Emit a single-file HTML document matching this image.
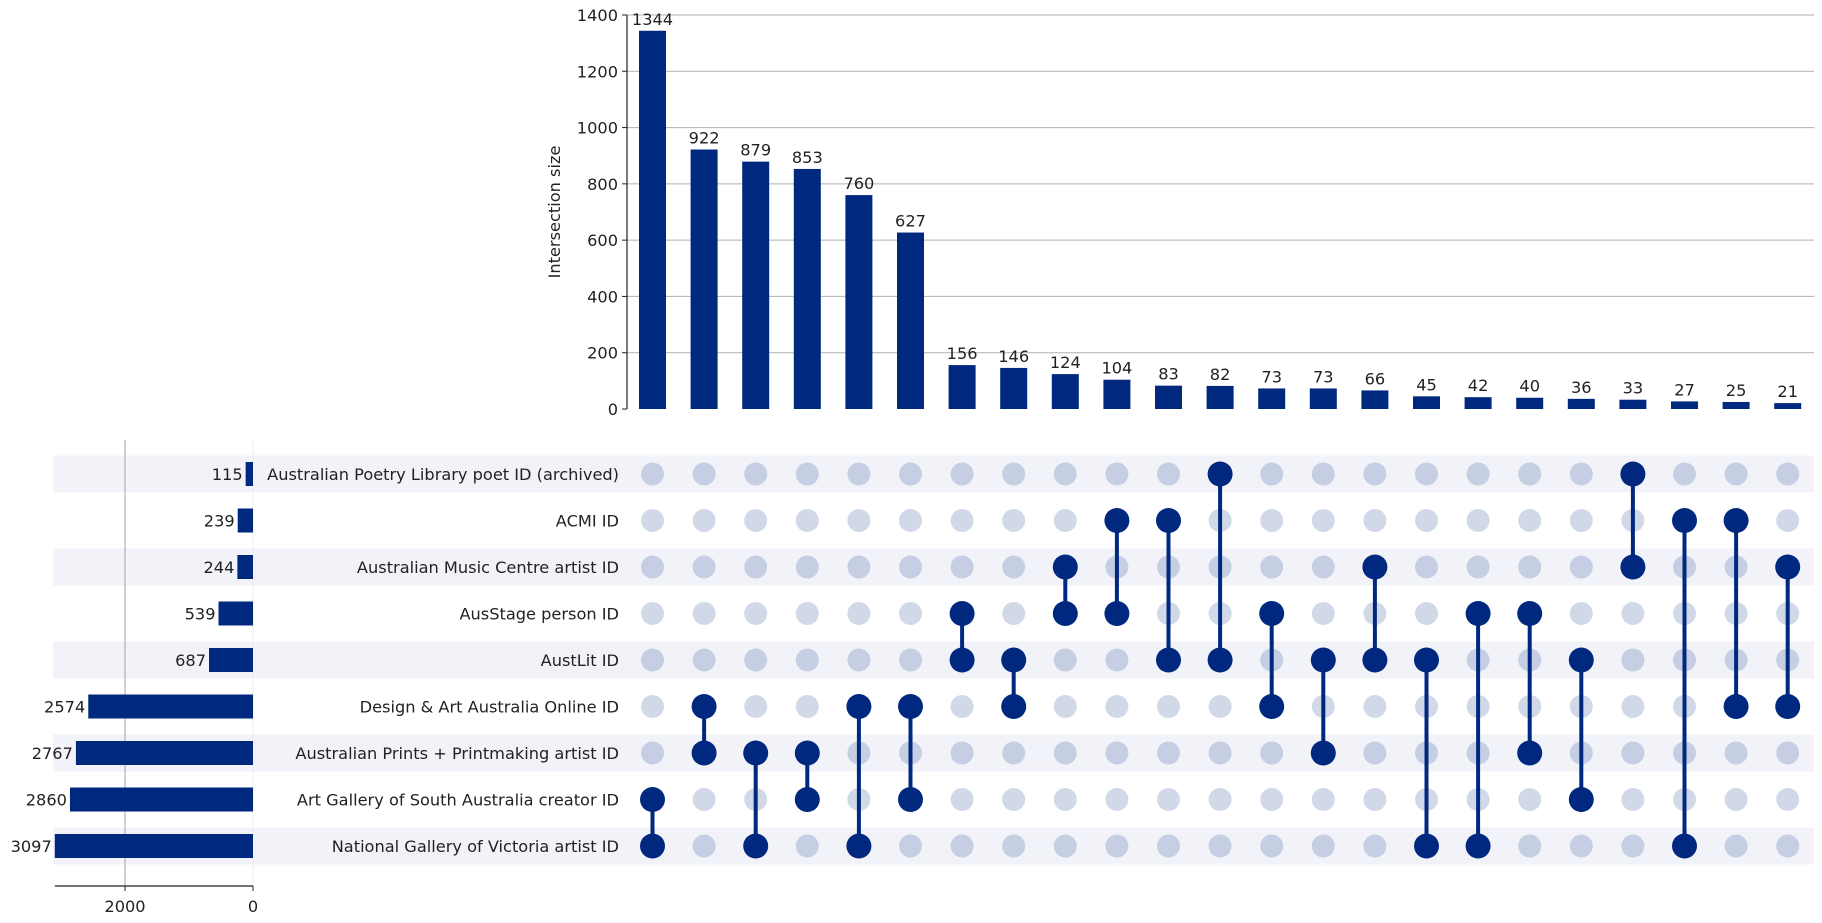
<!DOCTYPE html>
<html><head><meta charset="utf-8"><style>
body{margin:0;background:#fff}
svg{display:block;font-family:"DejaVu Sans","Liberation Sans",sans-serif}
</style></head><body>
<svg id="c" width="1822" height="923"></svg>
<script>
const categories=["Australian Poetry Library poet ID (archived)","ACMI ID","Australian Music Centre artist ID","AusStage person ID","AustLit ID","Design & Art Australia Online ID","Australian Prints + Printmaking artist ID","Art Gallery of South Australia creator ID","National Gallery of Victoria artist ID"];
const setSizes=[115,239,244,539,687,2574,2767,2860,3097];
const intersectionSizes=[1344,922,879,853,760,627,156,146,124,104,83,82,73,73,66,45,42,40,36,33,27,25,21];
const memberships=[[7,8],[5,6],[6,8],[6,7],[5,8],[5,7],[3,4],[4,5],[2,3],[1,3],[1,4],[0,4],[3,5],[4,6],[2,4],[4,8],[3,8],[3,6],[4,7],[0,2],[1,8],[1,5],[2,5]];
const yTicks=[0,200,400,600,800,1000,1200,1400];
const xTicks=[2000,0];

const svg=document.getElementById('c');const NS='http://www.w3.org/2000/svg';
function mk(t,a,p){const e=document.createElementNS(NS,t);for(const k in a)e.setAttribute(k,a[k]);(p||svg).appendChild(e);return e;}
const DARK='#00287f';
const FS=16.2;
const colX=i=>652.5+i*51.6;
const rowY=j=>474+j*46.5;
const yS=v=>409-v*(394/1400);
const xS=v=>253-v*0.064;

categories.forEach((c,j)=>{if(j%2==0){const b=mk('rect',{x:53,y:rowY(j)-18.5,width:1761,height:37,fill:'#f2f3f8'});

}});

yTicks.forEach(t=>{const y=yS(t);
if(t>0){const g=mk('line',{x1:627,x2:1814,y1:y,y2:y,stroke:'#b0b0b0','stroke-width':1});

}
mk('line',{x1:622,x2:627,y1:y,y2:y,stroke:'#222'});
const tl=mk('text',{x:618,y:y+6,'text-anchor':'end','font-size':FS,fill:'#222'});tl.textContent=t;


});
const ax=mk('line',{x1:627,x2:627,y1:yS(1400),y2:409,stroke:'#222','stroke-width':1.2});


const yt=mk('text',{x:0,y:0,'text-anchor':'middle','font-size':FS,fill:'#222',transform:'translate(560,212) rotate(-90)'});yt.textContent='Intersection size';



intersectionSizes.forEach((v,i)=>{const x=colX(i);
const r=mk('rect',{x:x-13.5,y:yS(v),width:27,height:409-yS(v),fill:DARK});


const t=mk('text',{x:x,y:yS(v)-6,'text-anchor':'middle','font-size':FS,fill:'#222'});t.textContent=v;


});

mk('line',{x1:253,x2:253,y1:440,y2:886,stroke:'#eee'});
const sg=mk('line',{x1:xS(2000),x2:xS(2000),y1:440,y2:886,stroke:'#c0c0c0','stroke-width':1.5});


setSizes.forEach((v,j)=>{const y=rowY(j);
const r=mk('rect',{x:xS(v),y:y-12,width:253-xS(v),height:24,fill:DARK});


const t=mk('text',{x:xS(v)-3,y:y+6,'text-anchor':'end','font-size':FS,fill:'#222'});t.textContent=v;


const l=mk('text',{x:619,y:y+6,'text-anchor':'end','font-size':FS,fill:'#222'});l.textContent=categories[j];


});
const sx=mk('line',{x1:xS(3097),x2:253,y1:886,y2:886,stroke:'#222','stroke-width':1.2});


xTicks.forEach(t=>{mk('line',{x1:xS(t),x2:xS(t),y1:886,y2:891,stroke:'#222'});
const tl=mk('text',{x:xS(t),y:912,'text-anchor':'middle','font-size':FS,fill:'#222'});tl.textContent=t;

});

intersectionSizes.forEach((v,i)=>{const x=colX(i);
categories.forEach((c,j)=>{if(!memberships[i].includes(j)){const d=mk('circle',{cx:x,cy:rowY(j),r:11.5,fill:j%2==0?'#c6cee3':'#d1d8e8'});

}});
const m=memberships[i];const a=Math.min(...m),b=Math.max(...m);
const ln=mk('line',{x1:x,x2:x,y1:rowY(a),y2:rowY(b),stroke:DARK,'stroke-width':4});


m.forEach(j=>{const d=mk('circle',{cx:x,cy:rowY(j),r:12.5,fill:DARK});

});
});
</script>
</body></html>
